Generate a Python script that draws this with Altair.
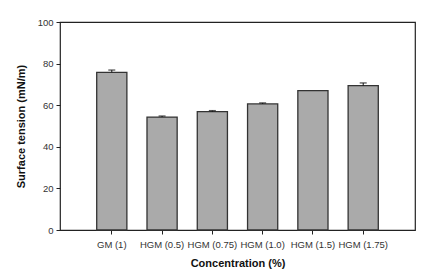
import altair as alt
import pandas as pd

categories = ["GM (1)", "HGM (0.5)", "HGM (0.75)", "HGM (1.0)", "HGM (1.5)", "HGM (1.75)"]
means = [75.8, 54.3, 56.9, 60.6, 67.0, 69.4]
errors = [1.1, 0.5, 0.5, 0.5, 0.0, 1.3]
y_ticks = [0, 20, 40, 60, 80, 100]

df = pd.DataFrame({"cat": categories, "mean": means, "err": errors})
df["upper"] = df["mean"] + df["err"]

FONT = "Liberation Sans"

x_enc = alt.X(
    "cat:N",
    sort=categories,
    title="Concentration (%)",
    scale=alt.Scale(paddingInner=0.4, paddingOuter=0.73),
    axis=alt.Axis(labelAngle=0, tickSize=4, labelPadding=5, titlePadding=9,
                  domain=False, tickColor="#222"),
)
y_scale = alt.Scale(domain=[0, 100], nice=False)

bars = alt.Chart(df).mark_bar(
    fill="#aaaaaa", stroke="#333333", strokeWidth=1.3
).encode(
    x=x_enc,
    y=alt.Y("mean:Q", scale=y_scale, title="Surface tension (mN/m)",
            axis=alt.Axis(values=y_ticks, tickSize=4, labelPadding=3,
                          titlePadding=11, grid=False, domain=False,
                          tickColor="#222", titleFontSize=11)),
)

err_df = df[df["err"] > 0]
rules = alt.Chart(err_df).mark_rule(color="#111111", strokeWidth=1).encode(
    x=alt.X("cat:N", sort=categories),
    y=alt.Y("mean:Q", scale=y_scale),
    y2="upper:Q",
)
caps = alt.Chart(err_df).mark_tick(color="#111111", size=7, thickness=1.3).encode(
    x=alt.X("cat:N", sort=categories),
    y=alt.Y("upper:Q", scale=y_scale),
)

chart = alt.layer(bars, rules, caps).properties(
    width=355,
    height=208,
    autosize=alt.AutoSizeParams(type="none"),
    padding={"left": 52, "top": 14, "right": 21, "bottom": 40},
).configure_view(
    stroke="#222222", strokeWidth=1.2
).configure_axis(
    labelFont=FONT, titleFont=FONT, labelFontSize=9.5, labelColor="#333333",
    titleFontSize=10.5, titleFontWeight="bold", titleColor="#111111",
).configure_axisX(titleFontSize=11)

chart.save("out.html", embed_options={"renderer": "svg", "actions": False})
